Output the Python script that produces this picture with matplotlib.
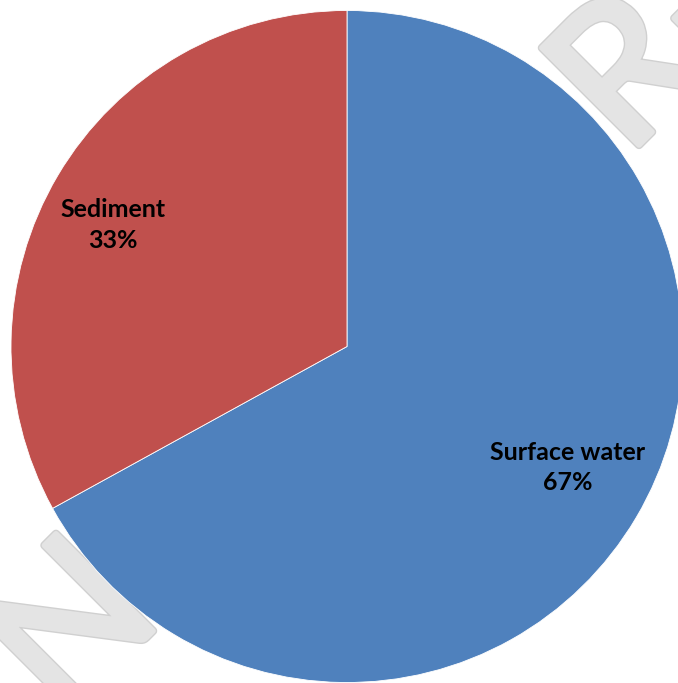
import numpy as np
import matplotlib
matplotlib.use("Agg")
import matplotlib.pyplot as plt
import matplotlib.patheffects as pe

labels = ["Surface water", "Sediment"]
shares = [67, 33]
colors = ["#4F81BD", "#C0504D"]

W, H = 678, 683
fig = plt.figure(figsize=(W / 100, H / 100), dpi=100)

# faint diagonal watermark, sits behind the pie
fig.text(62 / W, 1 - 722 / H, "NOT PEER-REVIEWED", rotation=45,
         rotation_mode="anchor", ha="left", va="baseline",
         fontsize=138, family="Lato", color="#e4e4e4", zorder=-5,
         path_effects=[pe.Stroke(linewidth=6, foreground="#d0d0d0"),
                       pe.Stroke(linewidth=4, foreground="#e4e4e4"),
                       pe.Normal()])

cx, cy, r = 347, 346.5, 336
ax = fig.add_axes([(cx - r) / W, (H - cy - r) / H, 2 * r / W, 2 * r / H])
ax.set_zorder(1)

texts = ax.pie(shares, colors=colors, startangle=90, counterclock=False,
               labels=[f"{l}\n{s}%" for l, s in zip(labels, shares)],
               wedgeprops=dict(edgecolor="white", linewidth=0.6),
               textprops=dict(fontsize=18, fontweight="bold", family="Lato",
                              color="black", linespacing=1.4))[1]

# label placement (radius, angle in degrees)
label_pos = [(0.75, -28.7), (0.785, 152.5)]
for t, (rr, ang) in zip(texts, label_pos):
    t.set_position((rr * np.cos(np.radians(ang)), rr * np.sin(np.radians(ang))))
    t.set_ha("center")
    t.set_va("center")

ax.set_xlim(-1, 1)
ax.set_ylim(-1, 1)
ax.set_aspect("equal")

fig.savefig("out.png", dpi=100)
